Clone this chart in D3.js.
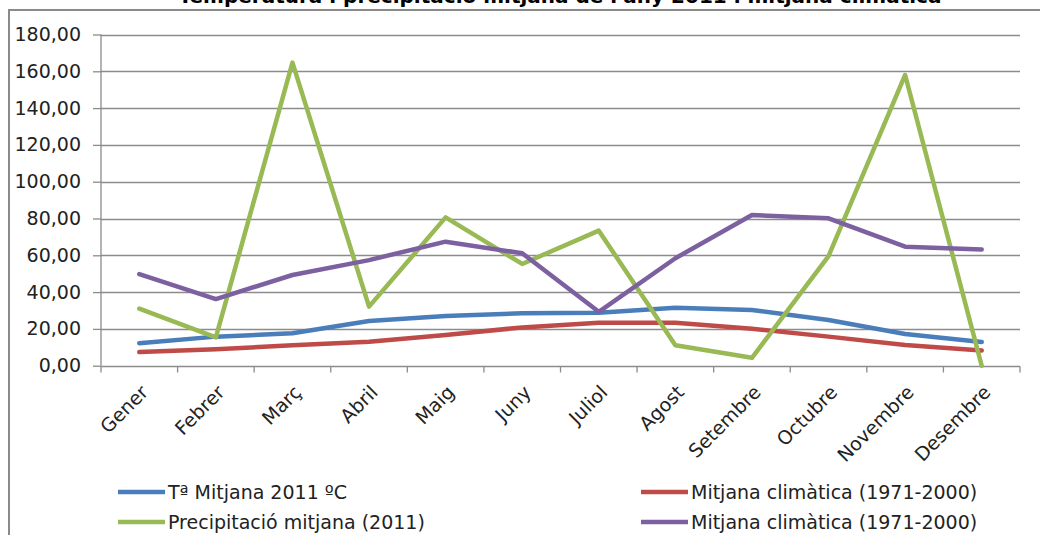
<!DOCTYPE html>
<html><head><meta charset="utf-8">
<script src="https://cdn.jsdelivr.net/npm/d3@7"></script>
<style>
html,body{margin:0;padding:0;background:#fff;overflow:hidden}
svg{display:block;font-family:"DejaVu Sans",sans-serif}
</style></head>
<body><svg id="c" width="1040" height="535"></svg>
<script>
const months = ["Gener","Febrer","Març","Abril","Maig","Juny","Juliol","Agost","Setembre","Octubre","Novembre","Desembre"];
const temp2011 = [12.2,15.8,17.6,24.3,27.0,28.5,28.8,31.5,30.3,24.8,17.2,12.9];
const tempClim = [7.4,8.9,11.1,13.0,16.7,20.8,23.4,23.4,20.1,15.8,11.2,8.2];
const prec2011 = [31.0,15.4,164.7,32.1,80.6,55.3,73.4,11.1,4.3,59.6,158.0,0.0];
const precClim = [49.8,36.2,49.3,57.4,67.4,61.1,29.3,58.4,81.9,80.1,64.7,63.2];
const yTicks = [0,20,40,60,80,100,120,140,160,180];
const seriesNames = ["Tª Mitjana 2011 ºC","Mitjana climàtica (1971-2000)","Precipitació mitjana (2011)","Mitjana climàtica (1971-2000)"];
const seriesColors = ["#4a7ebb","#be4b48","#98b954","#7d60a0"];
const title = "Temperatura i precipitació mitjana de l'any 2011 i mitjana climàtica";

const series = [temp2011, tempClim, prec2011, precClim];
const svg = d3.select("#c");
const L = 101, R = 1020, T = 34.5, B = 365.7;
const x = d3.scaleBand().domain(months).range([L, R]);
const y = d3.scaleLinear().domain([0,180]).range([B, T]);
const grid = "#8c8c8c";

// chart border
svg.append("path").attr("d", `M9,536V10H1041`).attr("fill","none").attr("stroke","#8a8a8a").attr("stroke-width",2);

// title (clipped at top, as in the reference)
svg.append("text").attr("x", 560).attr("y", 3).attr("text-anchor","middle")
  .attr("font-weight","bold").attr("font-size",20).attr("fill","#000").text(title);

// gridlines
svg.append("g").selectAll("line").data(yTicks.filter(d=>d>0)).join("line")
  .attr("x1", L).attr("x2", R).attr("y1", d=>Math.round(y(d))+0.5).attr("y2", d=>Math.round(y(d))+0.5)
  .attr("stroke", grid).attr("stroke-width",1.3);

// y axis
const ya = svg.append("g").attr("transform", `translate(${L},0)`)
  .call(d3.axisLeft(y).tickValues(yTicks).tickSize(8).tickPadding(12)
    .tickFormat(d=>d3.format(".2f")(d).replace(".",",")));
ya.select(".domain").remove();
ya.append("line").attr("x1",0).attr("x2",0).attr("y1",T).attr("y2",B).attr("stroke",grid).attr("stroke-width",1.3);
ya.selectAll(".tick line").attr("stroke",grid).attr("stroke-width",1.3);
ya.selectAll(".tick text").attr("font-size",19).attr("fill","#222").attr("font-family","DejaVu Sans");

// x axis
const xa = svg.append("g").attr("transform", `translate(0,${Math.round(B)+0.5})`);
xa.append("line").attr("x1",L).attr("x2",R).attr("stroke",grid).attr("stroke-width",1.3);
const bounds = months.map(m=>x(m)).concat([R]);
xa.selectAll("line.tk").data(bounds).join("line").attr("class","tk")
  .attr("x1",d=>d).attr("x2",d=>d).attr("y1",0).attr("y2",6).attr("stroke",grid).attr("stroke-width",1.3);
xa.selectAll("text").data(months).join("text")
  .attr("transform", d=>`translate(${x(d)+x.bandwidth()/2+10},${27}) rotate(-45)`)
  .attr("text-anchor","end").attr("font-size",19).attr("fill","#222").text(d=>d);

// lines
const line = d3.line().x((d,i)=>x(months[i])+x.bandwidth()/2).y(d=>y(d));
svg.append("g").selectAll("path").data(series).join("path")
  .attr("d", d=>line(d)).attr("fill","none")
  .attr("stroke",(d,i)=>seriesColors[i]).attr("stroke-width",4.5)
  .attr("stroke-linejoin","round").attr("stroke-linecap","round");

// legend
const legPos = [[118,492],[641,492],[118,522],[641,522]];
const lg = svg.append("g").selectAll("g").data(seriesNames).join("g")
  .attr("transform",(d,i)=>`translate(${legPos[i][0]},${legPos[i][1]})`);
lg.append("line").attr("x1",0).attr("x2",47).attr("y1",0).attr("y2",0)
  .attr("stroke",(d,i)=>seriesColors[i]).attr("stroke-width",4.5);
lg.append("text").attr("x",50).attr("y",7).attr("font-size",19).attr("fill","#222").text(d=>d);
</script>
</body></html>
